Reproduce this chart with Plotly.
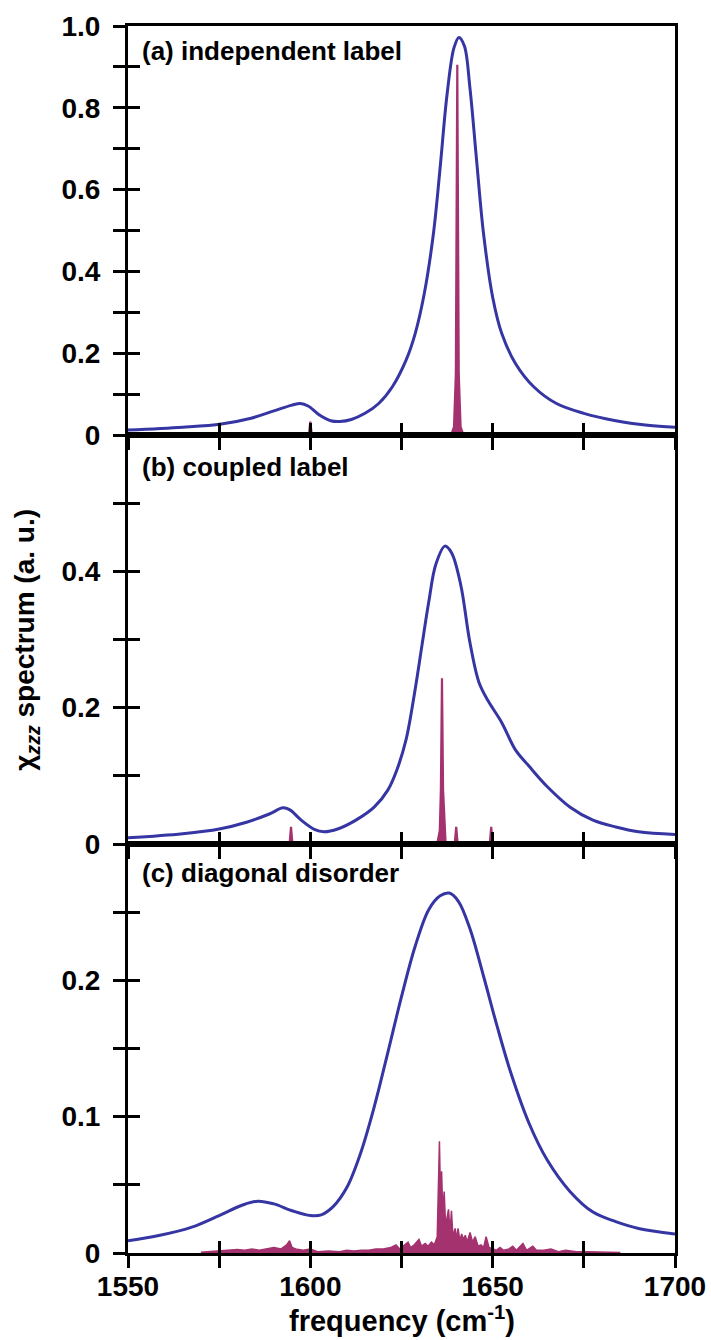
import plotly.graph_objects as go
from plotly.subplots import make_subplots

# ---- linear SFG spectra (blue) ----
blue_a_freq = [1550, 1565, 1575.6, 1583.75, 1590, 1595, 1597.25, 1599.4, 1602.5, 1605.6,
               1608.1, 1611.25, 1615, 1618.75, 1622.5, 1626.25, 1628.75, 1631.25, 1633.75,
               1635.6, 1637.5, 1639.4, 1640.75, 1642.25, 1643.75, 1645.6, 1647.5, 1650,
               1652.5, 1656.25, 1661.25, 1667.5, 1675, 1683.75, 1692.5, 1700]
blue_a_int = [0.012, 0.019, 0.027, 0.041, 0.059, 0.073, 0.077, 0.071, 0.049, 0.035,
              0.033, 0.038, 0.053, 0.077, 0.118, 0.183, 0.248, 0.346, 0.492,
              0.654, 0.833, 0.947, 0.972, 0.951, 0.85, 0.671, 0.492, 0.337,
              0.248, 0.175, 0.118, 0.077, 0.053, 0.035, 0.024, 0.019]

blue_b_freq = [1550, 1565, 1575, 1582.5, 1588.75, 1592.5, 1594.4, 1597.5, 1601.25, 1603.75,
               1607.5, 1612.5, 1617.5, 1621.25, 1623.75, 1626.25, 1628.75, 1630.6, 1632.5,
               1634.4, 1636.9, 1638.75, 1641.25, 1643.75, 1646.25, 1648.75, 1652.5, 1656.25,
               1660, 1665, 1671.25, 1677.5, 1683.75, 1690, 1700]
blue_b_int = [0.009, 0.015, 0.022, 0.032, 0.044, 0.053, 0.050, 0.035, 0.021, 0.018,
              0.022, 0.035, 0.054, 0.079, 0.109, 0.153, 0.227, 0.291, 0.356,
              0.41, 0.437, 0.427, 0.380, 0.296, 0.237, 0.21, 0.178, 0.138,
              0.114, 0.084, 0.054, 0.035, 0.025, 0.018, 0.014]

blue_c_freq = [1550, 1558.75, 1567.5, 1575, 1581.25, 1585.6, 1590, 1595, 1600, 1603,
               1606.25, 1610, 1613.75, 1617.5, 1621.25, 1625, 1628.75, 1632.5, 1635.6,
               1638.1, 1640.6, 1643.75, 1647.5, 1651.25, 1655, 1660, 1665, 1671.25,
               1677.5, 1683.75, 1690, 1700]
blue_c_int = [0.009, 0.013, 0.019, 0.0275, 0.035, 0.038, 0.036, 0.031, 0.0275, 0.028,
              0.034, 0.048, 0.073, 0.107, 0.147, 0.188, 0.225, 0.252, 0.262,
              0.264, 0.258, 0.238, 0.203, 0.166, 0.132, 0.095, 0.068, 0.045,
              0.030, 0.023, 0.018, 0.014]

# ---- eigenmode stick spectra (magenta) ----
red_a_freq = [1599.6, 1600.0, 1600.4, 1638.6, 1639.4, 1639.9, 1640.3, 1640.7, 1641.2, 1642.0]
red_a_int = [0, 0.033, 0, 0, 0.02, 0.15, 0.905, 0.15, 0.02, 0]

red_b_freq = [1594.3, 1594.7, 1595.1, 1634.8, 1635.5, 1635.8, 1636.1, 1636.4, 1637.1,
              1639.6, 1640.0, 1640.4, 1649.2, 1649.6, 1650.0]
red_b_int = [0, 0.025, 0, 0, 0.02, 0.08, 0.243, 0.08, 0.0,
             0, 0.025, 0, 0, 0.025, 0]

red_c_freq = [1570, 1575, 1578, 1580, 1582, 1584, 1586, 1588, 1590, 1592,
              1593.5, 1594.3, 1595, 1596, 1598, 1600, 1602, 1605, 1608, 1610, 1612, 1614,
              1616, 1618, 1620, 1622, 1623.5, 1624.5, 1625.5, 1626.8, 1627.5, 1628.5,
              1629.8, 1630.5, 1631.5, 1632.3, 1633.2, 1634, 1634.8, 1635.1, 1635.4, 1635.7,
              1636.0, 1636.3, 1636.7, 1637.1, 1637.5, 1637.9, 1638.3, 1638.7, 1639.1,
              1639.7, 1640.1, 1640.5, 1641.0, 1641.5, 1642.0, 1642.5, 1643.0, 1643.8,
              1644.5, 1645.2, 1646, 1646.8, 1647.5, 1648.2, 1649, 1650, 1651, 1652, 1653,
              1654.5, 1655.5, 1656.5, 1658.3, 1659.3, 1661, 1662, 1664, 1666, 1668, 1670,
              1673, 1676, 1680, 1685]
red_c_int = [0.0005, 0.0015, 0.002, 0.0025, 0.002, 0.003, 0.002, 0.003, 0.004, 0.003,
             0.006, 0.009, 0.004, 0.003, 0.002, 0.003, 0.001, 0.0015, 0.001, 0.002, 0.0015, 0.002,
             0.002, 0.003, 0.003, 0.004, 0.006, 0.003, 0.005, 0.008, 0.004, 0.006,
             0.010, 0.005, 0.007, 0.005, 0.008, 0.006, 0.012, 0.05, 0.082, 0.04,
             0.060, 0.03, 0.045, 0.02, 0.025, 0.032, 0.015, 0.031, 0.012,
             0.018, 0.010, 0.018, 0.009, 0.014, 0.010, 0.013, 0.008, 0.015,
             0.008, 0.012, 0.005, 0.006, 0.004, 0.012, 0.004, 0.003, 0.002, 0.004, 0.002,
             0.003, 0.005, 0.002, 0.007, 0.002, 0.005, 0.002, 0.002, 0.003, 0.001, 0.002,
             0.001, 0.001, 0.0008, 0.0003]

panel_labels = ["(a) independent label", "(b) coupled label", "(c) diagonal disorder"]

# ---- axis ticks ----
x_tickvals = [1550, 1575, 1600, 1625, 1650, 1675, 1700]
x_ticktext = ["1550", "", "1600", "", "1650", "", "1700"]
y_ranges = [[0, 1.0], [0, 0.6], [0, 0.3]]
y_tickvals = [
    [0, 0.1, 0.2, 0.3, 0.4, 0.5, 0.6, 0.7, 0.8, 0.9, 1.0],
    [0, 0.1, 0.2, 0.3, 0.4, 0.5, 0.6],
    [0, 0.05, 0.1, 0.15, 0.2, 0.25, 0.3],
]
y_ticktext = [
    ["0", "", "0.2", "", "0.4", "", "0.6", "", "0.8", "", "1.0"],
    ["0", "", "0.2", "", "0.4", "", ""],
    ["0", "", "0.1", "", "0.2", "", ""],
]

BLUE = "#3535a3"
MAGENTA = "#a4326f"
FONT = "Liberation Sans, Arial, sans-serif"

fig = make_subplots(rows=3, cols=1, shared_xaxes=True, vertical_spacing=0)

blues = [(blue_a_freq, blue_a_int), (blue_b_freq, blue_b_int), (blue_c_freq, blue_c_int)]
reds = [(red_a_freq, red_a_int), (red_b_freq, red_b_int), (red_c_freq, red_c_int)]
red_widths = [2.2, 2.2, 1.5]

for i in range(3):
    rf, ri = reds[i]
    fig.add_trace(go.Scatter(x=rf, y=ri, mode="lines", line=dict(color=MAGENTA, width=red_widths[i]),
                             fill="tozeroy", fillcolor=MAGENTA, showlegend=False),
                  row=i + 1, col=1)
    bf, bi = blues[i]
    fig.add_trace(go.Scatter(x=bf, y=bi, mode="lines", line=dict(color=BLUE, width=3, shape="spline"),
                             showlegend=False),
                  row=i + 1, col=1)

tick_common = dict(ticklen=12, tickwidth=2.5, tickcolor="black",
                   showline=True, linewidth=3, linecolor="black", mirror=True,
                   showgrid=False, zeroline=False, automargin=False,
                   tickfont=dict(family=FONT, size=28, color="black", weight="bold"))

for i in range(3):
    n = "" if i == 0 else str(i + 1)
    fig.layout["xaxis" + n].update(
        range=[1550, 1700], tickmode="array", tickvals=x_tickvals,
        ticktext=x_ticktext, showticklabels=(i == 2), ticks="outside",
        ticklabelstandoff=-6, **tick_common)
    fig.layout["yaxis" + n].update(
        range=y_ranges[i], tickmode="array", tickvals=y_tickvals[i],
        ticktext=y_ticktext[i], ticks="outside", ticklabelstandoff=7, **tick_common)

    # inner half of the crossing tick marks
    k = str(i + 4)
    fig.layout["xaxis" + k] = dict(
        overlaying="x" + n, anchor="y" + k, range=[1550, 1700], tickmode="array",
        tickvals=x_tickvals, showticklabels=False, ticks="inside", ticklen=12,
        tickwidth=2.5, tickcolor="black", showgrid=False, zeroline=False, showline=False,
        automargin=False)
    fig.layout["yaxis" + k] = dict(
        overlaying="y" + n, anchor="x" + k, range=y_ranges[i], tickmode="array",
        tickvals=y_tickvals[i], showticklabels=False, ticks="inside", ticklen=12,
        tickwidth=2.5, tickcolor="black", showgrid=False, zeroline=False, showline=False,
        automargin=False)
    fig.add_trace(go.Scatter(x=[None], y=[None], xaxis="x" + k, yaxis="y" + k,
                             showlegend=False, hoverinfo="skip"))

label_y = [0.939, 0.922, 0.929]
for i in range(3):
    n = "" if i == 0 else str(i + 1)
    fig.add_annotation(text=panel_labels[i], xref="x" + n + " domain", yref="y" + n + " domain",
                       x=0.022, y=label_y[i], xanchor="left", yanchor="middle", showarrow=False,
                       font=dict(family=FONT, size=26, color="black", weight="bold"))

fig.add_annotation(text="χ<sub><i>zzz</i></sub> spectrum (a. u.)", xref="paper", yref="paper",
                   x=-0.186, y=0.5, xanchor="center", yanchor="middle", textangle=-90,
                   showarrow=False, font=dict(family=FONT, size=28, color="black", weight="bold"))
fig.add_annotation(text="frequency (cm<sup>-1</sup>)", xref="paper", yref="paper",
                   x=0.5, y=-0.054, xanchor="center", yanchor="middle",
                   showarrow=False, font=dict(family=FONT, size=29, color="black", weight="bold"))

fig.update_layout(width=711, height=1340, margin=dict(l=128, r=36, t=26, b=87, autoexpand=False),
                  plot_bgcolor="white", paper_bgcolor="white", showlegend=False)

fig.write_html("out.html")
